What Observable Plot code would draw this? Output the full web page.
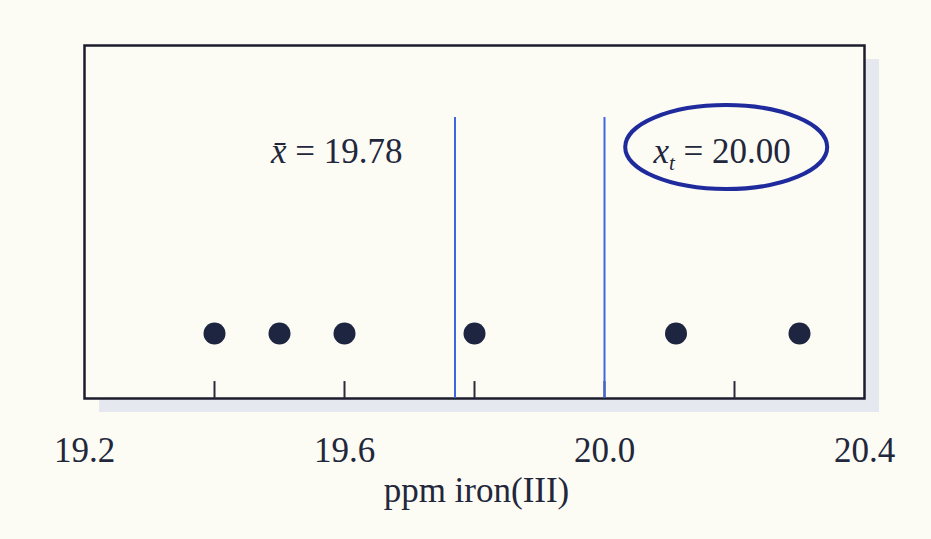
<!DOCTYPE html>
<html><head><meta charset="utf-8">
<script src="https://cdn.jsdelivr.net/npm/d3@7"></script>
<script src="https://cdn.jsdelivr.net/npm/@observablehq/plot@0.6"></script>
<style>html,body{margin:0;padding:0;background:#fcfcf5;}</style>
</head><body><div id="chart"></div>
<script>
// ---- data ----
const values = [19.4, 19.5, 19.6, 19.8, 20.11, 20.3];   // individual results, ppm iron(III)
const meanValue = 19.77;                                // drawn position of the mean line
const trueValue = 20.0;                                 // true value x_t
const tickValues = [19.4, 19.6, 19.8, 20.0, 20.2];
const tickLabels = [19.2, 19.6, 20.0, 20.4];
const meanText = "19.78";
const trueText = "20.00";
const xLabel = "ppm iron(III)";
// annotation anchors (x in data units)
const meanLabelX = 19.588;
const trueLabelX = 20.181;
const ellipseX = 20.188;

const FONT = "'Liberation Serif', 'Times New Roman', serif";
const INK = "#22273b";
const BLUE = "#3f66e0";

const plot = Plot.plot({
  width: 931, height: 539,
  marginLeft: 84, marginRight: 67, marginTop: 45, marginBottom: 141,
  style: {background: "#fcfcf5", fontFamily: FONT, color: INK, overflow: "visible"},
  x: {domain: [19.2, 20.4], axis: null},
  y: {domain: [0, 1], axis: null},
  marks: [
    Plot.rect([0], {x1: 19.2, x2: 20.4, y1: 0, y2: 1, dx: 15, dy: 14, fill: "#e5e8ee"}),
    Plot.frame({fill: "#fcfcf5", stroke: "#1c1c2e", strokeWidth: 2.5}),
    Plot.ruleX(tickValues, {y1: 0, y2: 0.048, stroke: "#2b2b3b", strokeWidth: 2}),
    Plot.ruleX([meanValue, trueValue], {y1: 0, y2: 0.796, stroke: BLUE, strokeWidth: 2}),
    Plot.dot(values, {x: d => d, y: 0.184, r: 11, fill: "#1e2540"}),
    Plot.text(tickLabels, {x: d => d, y: -0.1785, text: d => d.toFixed(1), fontSize: 35, lineAnchor: "bottom", fill: INK}),
    Plot.text([xLabel], {x: 19.803, y: -0.292, text: d => d, fontSize: 35, lineAnchor: "bottom", fill: INK}),
    Plot.text(["MEANLABEL"], {x: meanLabelX, y: 0.666, text: d => d, fontSize: 35, lineAnchor: "bottom", fill: INK}),
    Plot.text(["TRUELABEL"], {x: trueLabelX, y: 0.666, text: d => d, fontSize: 35, lineAnchor: "bottom", fill: INK})
  ]
});
document.getElementById("chart").appendChild(plot);

const svg = d3.select(plot);
svg.selectAll("text").each(function() {
  const t = d3.select(this);
  const s = this.textContent;
  if (s === "MEANLABEL") {
    t.text(null);
    t.append("tspan").attr("font-style", "italic").text("x\u0304");
    t.append("tspan").text(" = " + meanText);
  } else if (s === "TRUELABEL") {
    t.text(null);
    t.append("tspan").attr("font-style", "italic").text("x");
    t.append("tspan").attr("font-style", "italic").attr("font-size", "0.6em").attr("dy", "0.3em").text("t");
    t.append("tspan").attr("dy", "-0.18em").text(" = " + trueText);
  }
});

const xs = plot.scale("x"), ys = plot.scale("y");
svg.append("ellipse")
  .attr("cx", xs.apply(ellipseX))
  .attr("cy", ys.apply(0.711))
  .attr("rx", 101).attr("ry", 42)
  .attr("fill", "none").attr("stroke", "#1f2a9c").attr("stroke-width", 4);
</script></body></html>
